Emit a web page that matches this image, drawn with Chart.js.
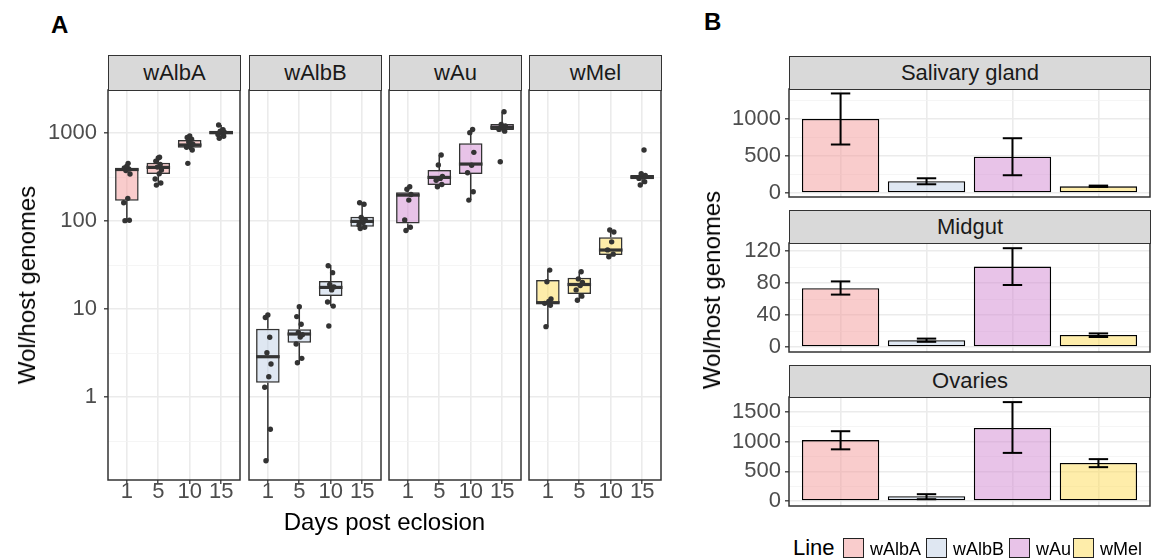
<!DOCTYPE html>
<html><head><meta charset="utf-8">
<script src="https://cdn.jsdelivr.net/npm/chart.js@4.4.1/dist/chart.umd.min.js"></script>
<style>
body{margin:0;width:1162px;height:560px;background:#fff;position:relative;overflow:hidden;font-family:"Liberation Sans",Arial,sans-serif;}
canvas{position:absolute;}
.strip{position:absolute;background:#d9d9d9;border:1.5px solid #333;box-sizing:border-box;text-align:center;color:#1a1a1a;font-size:22px;}
.t{position:absolute;white-space:nowrap;line-height:1;}
.sw{position:absolute;width:21px;height:20px;border:1px solid #222;box-sizing:border-box;}
</style></head><body>
<script>
// ---------------- DATA ----------------
const DAYS = ['1', '5', '10', '15'];
const LINES = ['wAlbA', 'wAlbB', 'wAu', 'wMel'];
const TISSUES = ['Salivary gland', 'Midgut', 'Ovaries'];

// Panel A: boxplot stats per day: [lower whisker, Q1, median, Q3, upper whisker]
const wAlbA_box = [[101, 170, 385, 397, 452], [256, 342, 407, 460, 530], [641, 681, 731, 832, 925], [871, 966, 1010, 1062, 1232]];
const wAlbB_box = [[0.189, 1.455, 2.87, 5.97, 8.55], [2.45, 4.14, 5.2, 5.88, 10.6], [10.8, 14.06, 17.6, 20.8, 31.6], [82, 86, 99, 112, 161]];
const wAu_box   = [[77.6, 94, 197, 212, 245], [245, 257, 313, 380, 563], [173, 342, 444, 764, 1097], [1040, 1082, 1161, 1265, 1746]];
const wMel_box  = [[6.3, 11.6, 11.8, 21.3, 27.7], [12.6, 14.8, 19, 22.7, 26.5], [39.3, 41.1, 46.8, 65.3, 79], [257, 298, 316, 333, 345]];

// Panel A: individual samples per day
const wAlbA_pts = [[101, 102, 161, 181, 342, 375, 390, 400, 420, 452], [256, 270, 300, 345, 380, 410, 440, 480, 520, 530], [452, 641, 690, 720, 745, 790, 850, 890, 925], [871, 920, 960, 1000, 1020, 1050, 1090, 1232]];
const wAlbB_pts = [[0.189, 0.43, 1.29, 1.70, 2.37, 3.19, 4.77, 8.0, 8.55], [2.45, 2.75, 4.0, 4.8, 5.1, 5.4, 6.7, 8.2, 10.6], [6.4, 10.8, 12.0, 16.5, 17.8, 19.0, 25.9, 31], [82, 85, 90, 96, 103, 110, 155, 161]];
const wAu_pts   = [[78, 85, 103, 173, 200, 230, 245], [245, 260, 290, 305, 320, 433, 563], [173, 215, 354, 430, 603, 1010, 1097], [472, 1050, 1100, 1161, 1200, 1250, 1746]];
const wMel_pts  = [[6.3, 11.0, 11.6, 12.2, 13.0, 20.4, 27.7], [12.6, 14.0, 16.5, 18.5, 20.0, 22.0, 26.5], [39.3, 42, 47, 58, 75, 79], [257, 280, 305, 316, 330, 345, 641]];

// Panel A log axis
const LOG_MAJOR = [1, 10, 100, 1000];
const LOG_LABELS = ['1', '10', '100', '1000'];
const LOG_MINOR = [0.316, 3.16, 31.6, 316];

// Panel B: mean and error bar limits per line
const SG_MEAN = [1000, 158, 490, 90];
const SG_LO   = [655, 118, 240, 82];
const SG_HI   = [1345, 199, 740, 100];
const MG_MEAN = [73.5, 8.5, 100.5, 15];
const MG_LO   = [65.5, 6.5, 77.5, 12.5];
const MG_HI   = [82, 10.5, 123.5, 17];
const OV_MEAN = [1025, 80, 1230, 640];
const OV_LO   = [870, 30, 810, 570];
const OV_HI   = [1175, 115, 1665, 705];

// Panel B axis ticks
const SG_TICKS = [0, 500, 1000], SG_MINOR = [250, 750, 1250];
const MG_TICKS = [0, 40, 80, 120], MG_MINOR = [20, 60, 100];
const OV_TICKS = [0, 500, 1000, 1500], OV_MINOR = [250, 750, 1250];

// ---------------- STYLE ----------------
const FILL = ['rgba(243,153,153,0.5)', 'rgba(191,207,229,0.5)', 'rgba(209,135,209,0.5)', 'rgba(253,219,85,0.5)'];
const JITTER = [-0.06, 0.08, -0.1, 0.03, 0.1, -0.03, 0.06, -0.08, 0.0, 0.04];
const FONT = '"Liberation Sans", Arial, sans-serif';
const GRID_MAJ = '#EBEBEB', GRID_MIN = '#F3F3F3';

Chart.defaults.font.family = FONT;
Chart.defaults.animation = false;

const panelBorder = {
  id: 'panelBorder',
  afterDraw(chart) {
    const a = chart.chartArea, c = chart.ctx;
    c.save(); c.strokeStyle = '#333'; c.lineWidth = 1.5;
    c.strokeRect(a.left, a.top, a.right - a.left, a.bottom - a.top);
    c.restore();
  }
};

function mkCanvas(left, top, w, h) {
  const c = document.createElement('canvas');
  c.width = w; c.height = h;
  c.style.left = left + 'px'; c.style.top = top + 'px';
  c.style.width = w + 'px'; c.style.height = h + 'px';
  document.body.appendChild(c);
  return c;
}
function addText(txt, css) {
  const d = document.createElement('div');
  d.className = 't'; d.textContent = txt;
  Object.assign(d.style, css);
  document.body.appendChild(d);
  return d;
}
function addStrip(txt, left, top, w, h) {
  const d = document.createElement('div');
  d.className = 'strip'; d.textContent = txt;
  Object.assign(d.style, {left: left + 'px', top: top + 'px', width: w + 'px', height: h + 'px', lineHeight: (h - 3) + 'px'});
  document.body.appendChild(d);
}

function gridOpts(minorSet) {
  return {
    color: ctx => (ctx.tick && minorSet.includes(ctx.tick.value)) ? GRID_MIN : GRID_MAJ,
    lineWidth: ctx => (ctx.tick && minorSet.includes(ctx.tick.value)) ? 0.8 : 1.6,
    tickColor: ctx => (ctx.tick && minorSet.includes(ctx.tick.value)) ? 'rgba(0,0,0,0)' : '#333',
    tickLength: 4, tickWidth: 1.3, drawTicks: true
  };
}

// ---------------- PANEL A ----------------
const A_LEFT = [108, 249, 389, 529], A_W = 132, A_TOP = 90, A_BOT = 480;
const BOXES = [wAlbA_box, wAlbB_box, wAu_box, wMel_box];
const POINTS = [wAlbA_pts, wAlbB_pts, wAu_pts, wMel_pts];

LINES.forEach((ln, f) => {
  const first = f === 0;
  const left = first ? 20 : A_LEFT[f] - 4;
  const padL = first ? 0 : 4;
  const yW = first ? 88 : 0;
  const top = A_TOP - 24;
  const w = A_LEFT[f] + A_W - left + 4;
  const h = A_BOT - top + 34;
  const cv = mkCanvas(left, top, w, h);
  addStrip(ln, A_LEFT[f], 55, A_W + 1, 36);

  const box = BOXES[f], pts = POINTS[f];
  const boxData = box.map((b, i) => ({x: i + 1, y: [b[1], b[3]]}));
  const medData = box.map((b, i) => ({x: i + 1, y: b[2]}));
  const whisk = [];
  box.forEach((b, i) => {
    whisk.push({x: i + 1, y: b[0]}, {x: i + 1, y: b[1]}, {x: i + 1, y: null},
               {x: i + 1, y: b[3]}, {x: i + 1, y: b[4]}, {x: i + 1, y: null});
  });
  const ptData = [];
  pts.forEach((arr, i) => arr.forEach((v, k) => ptData.push({x: i + 1 + JITTER[k % JITTER.length], y: v})));

  new Chart(cv, {
    type: 'scatter',
    data: {datasets: [
      {type: 'line', data: whisk, borderColor: '#333', borderWidth: 1.5, pointRadius: 0, spanGaps: false, order: 3},
      {type: 'bar', data: boxData, backgroundColor: FILL[f], borderColor: '#333', borderWidth: 1.5, borderSkipped: false,
       barPercentage: 0.75, categoryPercentage: 1, order: 2},
      {type: 'scatter', data: medData, pointStyle: 'line', pointRadius: 11.8, borderColor: '#333', borderWidth: 3.2, order: 1},
      {type: 'scatter', data: ptData, pointRadius: 2.7, backgroundColor: '#333', borderWidth: 0, order: 0}
    ]},
    options: {
      responsive: false, animation: false, events: [],
      layout: {autoPadding: false, padding: {top: 24, left: padL, right: 4, bottom: 0}},
      plugins: {legend: {display: false}, tooltip: {enabled: false}},
      scales: {
        x: {type: 'linear', min: 0.4, max: 4.6, offset: false,
            grid: Object.assign(gridOpts([]), {offset: false}), border: {display: false},
            afterBuildTicks: s => { s.ticks = DAYS.map((d, i) => ({value: i + 1})); },
            afterFit: s => { s.height = 34; },
            ticks: {autoSkip: false, maxRotation: 0, minRotation: 0, padding: -5, color: '#4D4D4D',
                    font: {size: 22, family: FONT}, callback: v => DAYS[v - 1]}},
        y: {type: 'logarithmic', min: 0.114, max: 3083,
            grid: Object.assign(gridOpts(LOG_MINOR), {drawTicks: first}), border: {display: false},
            afterBuildTicks: s => { s.ticks = LOG_MINOR.concat(LOG_MAJOR).sort((a, b) => a - b).map(v => ({value: v})); },
            afterFit: s => { s.width = yW; },
            ticks: {display: first, autoSkip: false, padding: 7, color: '#4D4D4D', font: {size: 22, family: FONT},
                    callback: v => { const i = LOG_MAJOR.indexOf(v); return i >= 0 ? LOG_LABELS[i] : ''; }}}
      }
    },
    plugins: [panelBorder]
  });
});

addText('Wol/host genomes', {left: '27px', top: '285px', fontSize: '24px', color: '#000', transform: 'translate(-50%,-50%) rotate(-90deg)'});
addText('Days post eclosion', {left: '108px', width: '553px', textAlign: 'center', top: '510px', fontSize: '24px', color: '#000'});
addText('A', {left: '51px', top: '13px', fontSize: '24px', fontWeight: 'bold', color: '#000'});
addText('B', {left: '704px', top: '10px', fontSize: '24px', fontWeight: 'bold', color: '#000'});

// ---------------- PANEL B ----------------
const B_LEFT = 789, B_RIGHT = 1150;
const B_PANELS = [
  {name: TISSUES[0], strip: [56, 33], top: 89, bot: 197, min: -54, max: 1405, ticks: SG_TICKS, minor: SG_MINOR, mean: SG_MEAN, lo: SG_LO, hi: SG_HI},
  {name: TISSUES[1], strip: [210, 33], top: 243, bot: 352, min: -6.25, max: 130, ticks: MG_TICKS, minor: MG_MINOR, mean: MG_MEAN, lo: MG_LO, hi: MG_HI},
  {name: TISSUES[2], strip: [365, 32], top: 397, bot: 506, min: -84, max: 1751, ticks: OV_TICKS, minor: OV_MINOR, mean: OV_MEAN, lo: OV_LO, hi: OV_HI}
];

B_PANELS.forEach(p => {
  const left = 700, top = p.top - 24;
  const w = B_RIGHT - left + 4, h = p.bot - p.top + 48;
  const cv = mkCanvas(left, top, w, h);
  addStrip(p.name, B_LEFT, p.strip[0], B_RIGHT - B_LEFT + 1, p.strip[1] + 1);

  const barData = p.mean.map((m, i) => ({x: i + 1, y: m}));
  const errLines = [];
  p.mean.forEach((m, i) => errLines.push({x: i + 1, y: p.lo[i]}, {x: i + 1, y: p.hi[i]}, {x: i + 1, y: null}));
  const caps = [];
  p.mean.forEach((m, i) => caps.push({x: i + 1, y: p.lo[i]}, {x: i + 1, y: p.hi[i]}));

  new Chart(cv, {
    type: 'scatter',
    data: {datasets: [
      {type: 'bar', data: barData, backgroundColor: FILL, borderColor: '#000', borderWidth: 1.3, borderSkipped: false,
       barPercentage: 0.9, categoryPercentage: 1, order: 2},
      {type: 'line', data: errLines, borderColor: '#000', borderWidth: 2, pointRadius: 0, spanGaps: false, order: 1},
      {type: 'scatter', data: caps, pointStyle: 'line', pointRadius: 9.7, borderColor: '#000', borderWidth: 2, order: 0}
    ]},
    options: {
      responsive: false, animation: false, events: [],
      layout: {autoPadding: false, padding: {top: 24, left: 0, right: 4, bottom: 24}},
      plugins: {legend: {display: false}, tooltip: {enabled: false}},
      scales: {
        x: {type: 'linear', min: 0.4, max: 4.6, offset: false,
            grid: {color: GRID_MAJ, lineWidth: 1.6, drawTicks: false, offset: false}, border: {display: false},
            afterBuildTicks: s => { s.ticks = LINES.map((l, i) => ({value: i + 1})); },
            afterFit: s => { s.height = 0; },
            ticks: {display: false}},
        y: {type: 'linear', min: p.min, max: p.max,
            grid: gridOpts(p.minor), border: {display: false},
            afterBuildTicks: s => { s.ticks = p.ticks.concat(p.minor).sort((a, b) => a - b).map(v => ({value: v})); },
            afterFit: s => { s.width = B_LEFT - left; },
            ticks: {autoSkip: false, padding: 4, color: '#4D4D4D', font: {size: 22, family: FONT},
                    callback: v => p.ticks.includes(v) ? String(v) : ''}}
      }
    },
    plugins: [panelBorder]
  });
});

addText('Wol/host genomes', {left: '712px', top: '290px', fontSize: '24px', color: '#000', transform: 'translate(-50%,-50%) rotate(-90deg)'});

// ---------------- LEGEND ----------------
addText('Line', {left: '793px', top: '537px', fontSize: '22px', color: '#000'});
const SW_X = [843, 926, 1009, 1073];
LINES.forEach((ln, i) => {
  const s = document.createElement('div');
  s.className = 'sw';
  Object.assign(s.style, {left: SW_X[i] + 'px', top: '538px', background: FILL[i]});
  document.body.appendChild(s);
  addText(ln, {left: (SW_X[i] + 27) + 'px', top: '540px', fontSize: '18px', color: '#000'});
});
</script>
</body></html>
